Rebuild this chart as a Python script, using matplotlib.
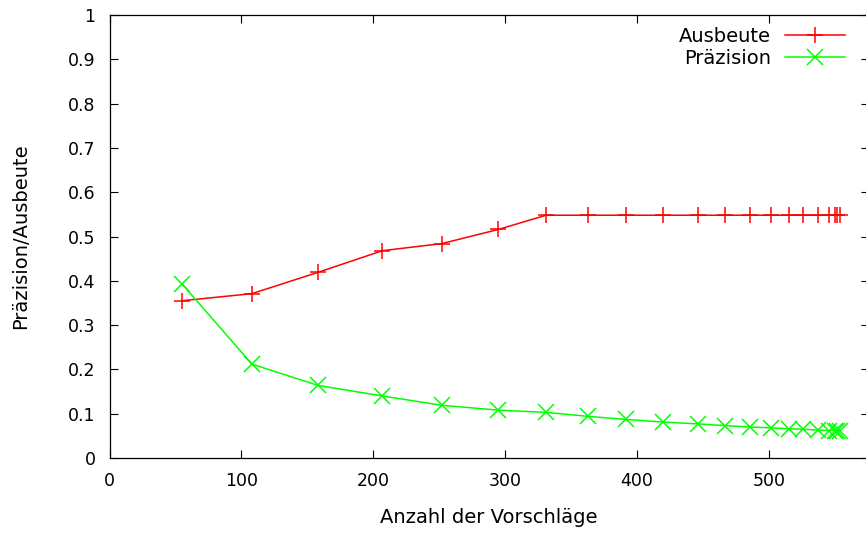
import numpy as np
import matplotlib
matplotlib.use('Agg')
import matplotlib.pyplot as plt

# values
anzahl = [55, 108, 158, 207, 252, 295, 331, 363, 392, 420, 446, 467, 486, 502,
          515, 526, 537, 546, 550, 552, 554]
ausbeute = [0.355, 0.371, 0.419, 0.468, 0.484, 0.516, 0.548, 0.548, 0.548, 0.548,
            0.548, 0.548, 0.548, 0.548, 0.548, 0.548, 0.548, 0.548, 0.548, 0.548, 0.548]
praezision = [0.393, 0.212, 0.164, 0.140, 0.119, 0.108, 0.103, 0.094, 0.087, 0.081,
              0.077, 0.073, 0.070, 0.068, 0.066, 0.065, 0.063, 0.062, 0.062, 0.061, 0.061]

x_ticks = [0, 100, 200, 300, 400, 500]
y_ticks = [0, 0.1, 0.2, 0.3, 0.4, 0.5, 0.6, 0.7, 0.8, 0.9, 1]
y_ticklabels = ['0', '0.1', '0.2', '0.3', '0.4', '0.5', '0.6', '0.7', '0.8', '0.9', '1']

plt.rcParams['font.family'] = 'DejaVu Sans'
plt.rcParams['font.size'] = 14

fig = plt.figure(figsize=(8.66, 5.34), dpi=100)
# gnuplot frame, its right border sits just past the picture edge
ax = fig.add_axes([109.5 / 866, 76 / 534, 759.5 / 866, 443 / 534])

ax.plot(anzahl, ausbeute, color='#ff0000', lw=1.1, marker='+', ms=12, mew=1.1,
        label='Ausbeute')
ax.plot(anzahl, praezision, color='#00ff00', lw=1.1, marker='x', ms=11, mew=1.1,
        label='Präzision')

ax.set_xticks(x_ticks)
ax.set_yticks(y_ticks)
ax.set_yticklabels(y_ticklabels)
ax.set_xlim(0, 576)
ax.set_ylim(0, 1)
ax.tick_params(direction='in', length=6, width=0.8, top=True, right=True,
               colors='black', labelsize=12.5)
ax.tick_params(axis='x', pad=10)
ax.tick_params(axis='y', pad=10)
for s in ax.spines.values():
    s.set_linewidth(0.9)

ax.set_xlabel('Anzahl der Vorschläge', labelpad=13)
ax.set_ylabel('Präzision/Ausbeute', labelpad=27)

ax.legend(loc='upper right', bbox_to_anchor=(0.9684, 0.974), frameon=False,
          markerfirst=False, handlelength=3.1, handletextpad=0.72,
          borderaxespad=0, borderpad=0, labelspacing=0.16)

fig.savefig('out.png', dpi=100)
